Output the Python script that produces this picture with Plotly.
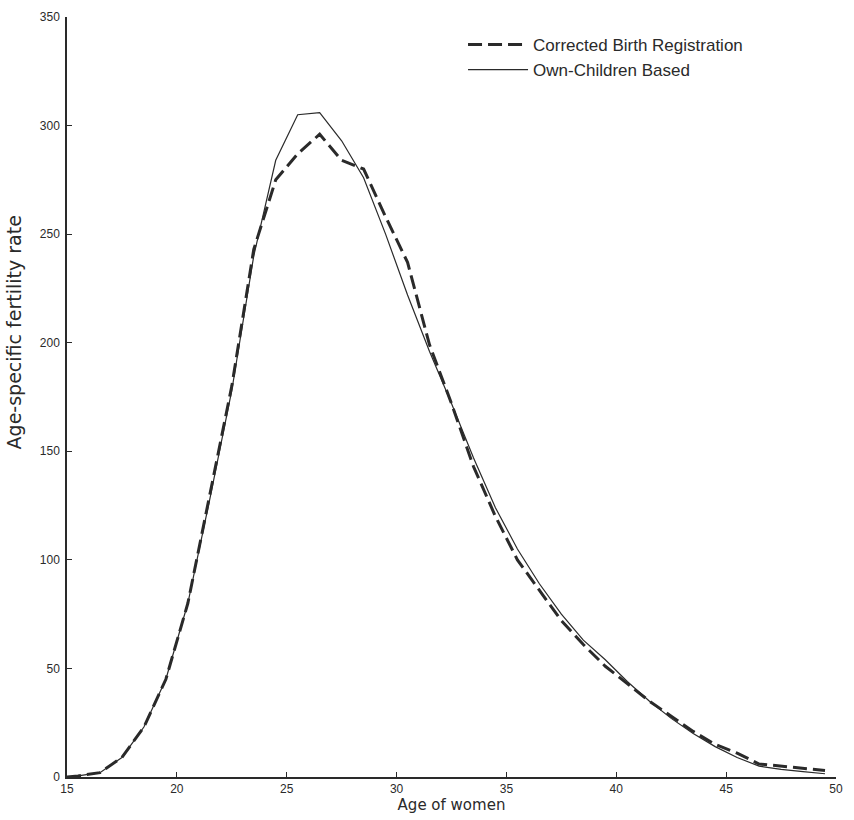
import plotly.graph_objects as go

ages = [15.0, 15.5, 16.5, 17.5, 18.5, 19.5, 20.5, 21.5, 22.5, 23.5, 24.5,
        25.5, 26.5, 27.5, 28.5, 29.5, 30.5, 31.5, 32.5, 33.5, 34.5,
        35.5, 36.5, 37.5, 38.5, 39.5, 40.5, 41.5, 42.5, 43.5, 44.5,
        45.5, 46.5, 47.5, 48.5, 49.5]

own_children = [0, 0.5, 2, 9, 23, 45, 80, 128, 178, 240, 284,
                 305, 306, 293, 276, 250, 222, 196, 172, 147, 124,
                 105, 89, 75, 63, 54, 44, 35, 27, 20, 14,
                 9, 5, 3.5, 2.5, 1.5]

corrected_birth = [0, 0.5, 2, 9, 23, 45, 80, 130, 180, 243, 275,
                   287, 296, 284, 280, 258, 237, 199, 172, 143, 120,
                   100, 86, 72, 61, 51, 43, 35, 28, 21, 15,
                   11, 6, 5, 4, 3]

x_ticks = [15, 20, 25, 30, 35, 40, 45, 50]
y_ticks = [0, 50, 100, 150, 200, 250, 300, 350]

ink = "#2a2a2a"
font = "Liberation Sans"
title_font = "DejaVu Sans"

fig = go.Figure()
fig.add_trace(go.Scatter(
    x=ages, y=corrected_birth, mode="lines",
    name="Corrected Birth Registration",
    line=dict(color=ink, width=3, dash="14px,6px"),
))
fig.add_trace(go.Scatter(
    x=ages, y=own_children, mode="lines",
    name="Own-Children Based",
    line=dict(color=ink, width=1.2),
))

fig.update_layout(
    width=854, height=820,
    margin=dict(l=67, r=18, t=17, b=43),
    paper_bgcolor="white", plot_bgcolor="white",
    font=dict(family=font, size=12, color=ink),
    legend=dict(x=0.515, y=0.987, xanchor="left", yanchor="top",
                bgcolor="rgba(0,0,0,0)", font=dict(size=17),
                itemwidth=60, tracegroupgap=8),
    xaxis=dict(range=[15, 50], tickvals=x_ticks, ticks="inside", ticklen=5,
               showgrid=False, zeroline=False, showline=True, linecolor=ink,
               linewidth=1.5, tickcolor=ink, automargin=False,
               title=dict(text="Age of women", standoff=0,
                          font=dict(family=title_font, size=15))),
    yaxis=dict(range=[0, 350], tickvals=y_ticks, ticks="inside", ticklen=5,
               showgrid=False, zeroline=False, showline=True, linecolor=ink,
               linewidth=1.5, tickcolor=ink, automargin=False, ticklabelstandoff=3),
    annotations=[dict(text="Age-specific fertility rate", textangle=-90,
                      xref="paper", yref="paper", x=0, y=0.585, xshift=-53,
                      xanchor="center", yanchor="middle", showarrow=False,
                      font=dict(family=title_font, size=19, color=ink))],
)

fig.write_html("out.html", config={"displayModeBar": False},
               post_script="document.body.style.margin='0px';")
